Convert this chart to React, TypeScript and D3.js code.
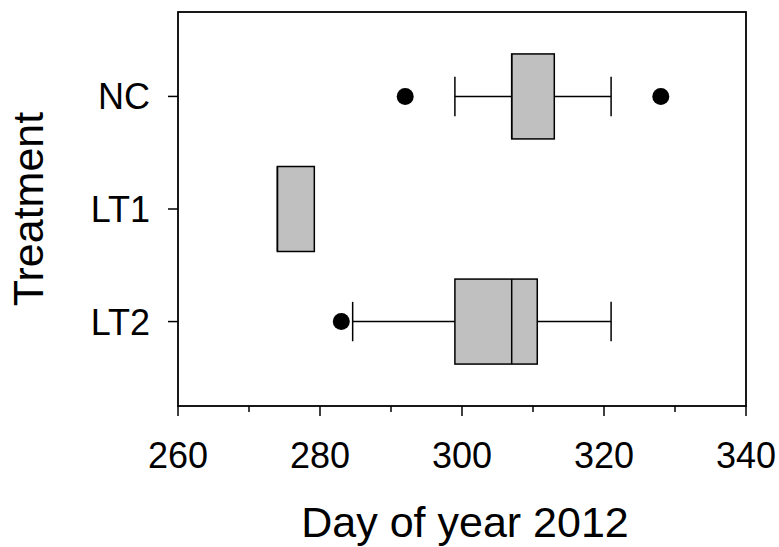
import React from 'react'
import { scaleLinear, scalePoint, range } from 'd3'

const categories = ['NC', 'LT1', 'LT2']
const q1 = [307, 274, 299]
const medians = [307, 274, 307]
const q3 = [313, 279.2, 310.6]
const whiskerLow = [299, null, 284.6]
const whiskerHigh = [321, null, 321]
const outliers = [[292, 328], [], [283]]
const majorTicks = [260, 280, 300, 320, 340]

const W = 779
const H = 547
const left = 178, right = 746, top = 12, bottom = 406
const font = 'Arial, "Liberation Sans", sans-serif'

const App = () => {
    const x = scaleLinear().domain([260, 340]).range([left, right])
    const y = scalePoint().domain(categories).range([top, bottom]).padding(0.75)
    const step = y.step()
    const boxH = step * 0.755
    const capH = step * 0.35
    const minorTicks = range(260, 341, 10)

    return (
        <svg width={W} height={H} style={{ position: 'absolute', left: 0, top: 0, background: '#fff' }}>
            {/* boxes */}
            {categories.map((c, i) => {
                const cy = y(c)
                return (
                    <g key={c}>
                        {whiskerLow[i] != null && (
                            <g stroke="#000" strokeWidth={1.5}>
                                <line x1={x(whiskerLow[i])} x2={x(q1[i])} y1={cy} y2={cy} />
                                <line x1={x(whiskerLow[i])} x2={x(whiskerLow[i])} y1={cy - capH / 2} y2={cy + capH / 2} />
                            </g>
                        )}
                        {whiskerHigh[i] != null && (
                            <g stroke="#000" strokeWidth={1.5}>
                                <line x1={x(q3[i])} x2={x(whiskerHigh[i])} y1={cy} y2={cy} />
                                <line x1={x(whiskerHigh[i])} x2={x(whiskerHigh[i])} y1={cy - capH / 2} y2={cy + capH / 2} />
                            </g>
                        )}
                        <rect x={x(q1[i])} y={cy - boxH / 2} width={x(q3[i]) - x(q1[i])} height={boxH}
                            fill="#c0c0c0" stroke="#000" strokeWidth={1.5} />
                        <line x1={x(medians[i])} x2={x(medians[i])} y1={cy - boxH / 2} y2={cy + boxH / 2}
                            stroke="#000" strokeWidth={1.5} />
                        {outliers[i].map((o, j) => (
                            <circle key={j} cx={x(o)} cy={cy} r={8.5} fill="#000" />
                        ))}
                    </g>
                )
            })}

            {/* frame */}
            <rect x={left} y={top} width={right - left} height={bottom - top} fill="none" stroke="#000" strokeWidth={1.8} />

            {/* x axis */}
            {minorTicks.map((t) => (
                <line key={t} x1={x(t)} x2={x(t)} y1={bottom} y2={bottom + (majorTicks.includes(t) ? 10 : 6)}
                    stroke="#000" strokeWidth={1.5} />
            ))}
            {majorTicks.map((t) => (
                <text key={t} x={x(t)} y={468} textAnchor="middle" fontFamily={font} fontSize={36} fill="#000">{t}</text>
            ))}
            <text x={(left + right) / 2 + 3} y={537} textAnchor="middle" fontFamily={font} fontSize={43} fill="#000">Day of year 2012</text>

            {/* y axis */}
            {categories.map((c) => (
                <g key={c}>
                    <line x1={left - 10} x2={left} y1={y(c)} y2={y(c)} stroke="#000" strokeWidth={1.5} />
                    <text x={150} y={y(c)} dy="0.36em" textAnchor="end" fontFamily={font} fontSize={36} fill="#000">{c}</text>
                </g>
            ))}
            <text transform={`translate(43,209) rotate(-90)`} textAnchor="middle" fontFamily={font} fontSize={43} fill="#000">Treatment</text>
        </svg>
    )
}

export default App
